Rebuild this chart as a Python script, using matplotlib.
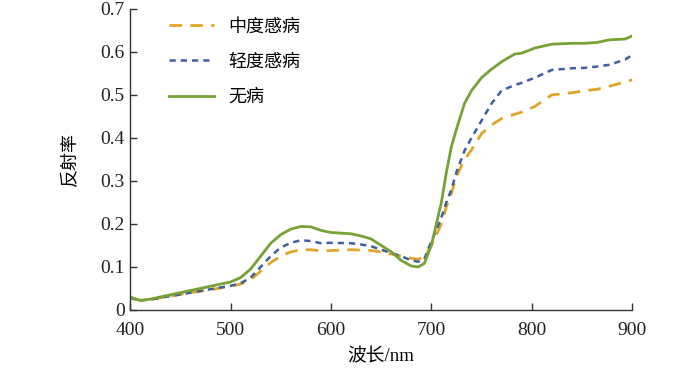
import matplotlib
matplotlib.use("Agg")
import matplotlib.pyplot as plt
from matplotlib import font_manager

plt.rcParams['font.serif'] = ['Liberation Serif', 'Times New Roman', 'DejaVu Serif']
plt.rcParams['font.family'] = ['Liberation Serif', 'Noto Sans CJK SC']

wavelength = [400, 410, 420, 440, 460, 480, 500, 510, 520, 530, 540, 550, 560, 570, 580,
              590, 600, 620, 630, 640, 650, 660, 670, 680, 687, 693, 700, 705, 710, 715,
              720, 725, 733, 740, 750, 760, 770, 783, 790, 803, 820, 840, 853, 865, 877,
              893, 900]

healthy = [0.030, 0.022, 0.025, 0.035, 0.045, 0.055, 0.065, 0.075, 0.095, 0.125, 0.155,
           0.175, 0.188, 0.194, 0.193, 0.185, 0.180, 0.177, 0.172, 0.165, 0.150, 0.135,
           0.115, 0.102, 0.100, 0.108, 0.150, 0.200, 0.250, 0.320, 0.380, 0.420, 0.480,
           0.510, 0.540, 0.560, 0.577, 0.595, 0.597, 0.609, 0.618, 0.620, 0.620, 0.622,
           0.628, 0.630, 0.637]

mild = [0.028, 0.022, 0.024, 0.032, 0.040, 0.048, 0.056, 0.062, 0.075, 0.100, 0.125,
        0.145, 0.156, 0.162, 0.160, 0.155, 0.156, 0.155, 0.152, 0.148, 0.140, 0.132,
        0.125, 0.115, 0.112, 0.118, 0.160, 0.185, 0.215, 0.250, 0.280, 0.320, 0.370,
        0.400, 0.440, 0.480, 0.510, 0.523, 0.528, 0.540, 0.558, 0.562, 0.563, 0.566,
        0.570, 0.582, 0.593]

moderate = [0.028, 0.022, 0.024, 0.032, 0.040, 0.047, 0.055, 0.060, 0.070, 0.090, 0.110,
            0.125, 0.135, 0.140, 0.140, 0.137, 0.138, 0.140, 0.139, 0.138, 0.135, 0.130,
            0.125, 0.120, 0.118, 0.122, 0.150, 0.175, 0.200, 0.240, 0.270, 0.310, 0.350,
            0.372, 0.410, 0.430, 0.445, 0.455, 0.460, 0.473, 0.500, 0.505, 0.510, 0.513,
            0.520, 0.530, 0.535]

labels = ['中度感病', '轻度感病', '无病']
xticks = [400, 500, 600, 700, 800, 900]
yticks = [0, 0.1, 0.2, 0.3, 0.4, 0.5, 0.6, 0.7]
yticklabels = ['0', '0.1', '0.2', '0.3', '0.4', '0.5', '0.6', '0.7']

serif = font_manager.FontProperties(family='Liberation Serif', size=14)

fig = plt.figure(figsize=(7.0, 3.72), dpi=100)
ax = fig.add_axes([0.186, 0.167, 0.717, 0.809])

ax.plot(wavelength, moderate, color='#E0A526', lw=2.0, dashes=(4.5, 3), label=labels[0])
ax.plot(wavelength, mild, color='#3E5FA0', lw=1.8, dashes=(2.5, 2), label=labels[1])
ax.plot(wavelength, healthy, color='#76A236', lw=2.0, label=labels[2])

ax.set_xlim(400, 900)
ax.set_ylim(0, 0.7)
ax.set_xticks(xticks)
ax.set_yticks(yticks)
ax.set_xticklabels([str(v) for v in xticks], fontproperties=serif)
ax.set_yticklabels(yticklabels, fontproperties=serif)
for s in ['top', 'right']:
    ax.spines[s].set_visible(False)
for s in ['left', 'bottom']:
    ax.spines[s].set_color('#333333')
    ax.spines[s].set_linewidth(1.0)
ax.tick_params(direction='in', length=5, width=1.0, color='#333333',
               labelcolor='#222222')
ax.tick_params(axis='x', pad=9)
ax.tick_params(axis='y', pad=4)

ax.set_xlabel('波长/nm', fontsize=13.5, family=['Liberation Serif', 'Noto Sans CJK SC'],
              labelpad=6)
ax.set_ylabel('反射率', fontsize=13, family=['Noto Sans CJK SC'], labelpad=15)

leg = ax.legend(loc='upper left', bbox_to_anchor=(0.045, 1.025), frameon=False,
                prop={'family': 'Noto Sans CJK SC', 'size': 13},
                handlelength=2.5, labelspacing=0.95, handletextpad=0.8)

fig.savefig('out.png', dpi=100)
